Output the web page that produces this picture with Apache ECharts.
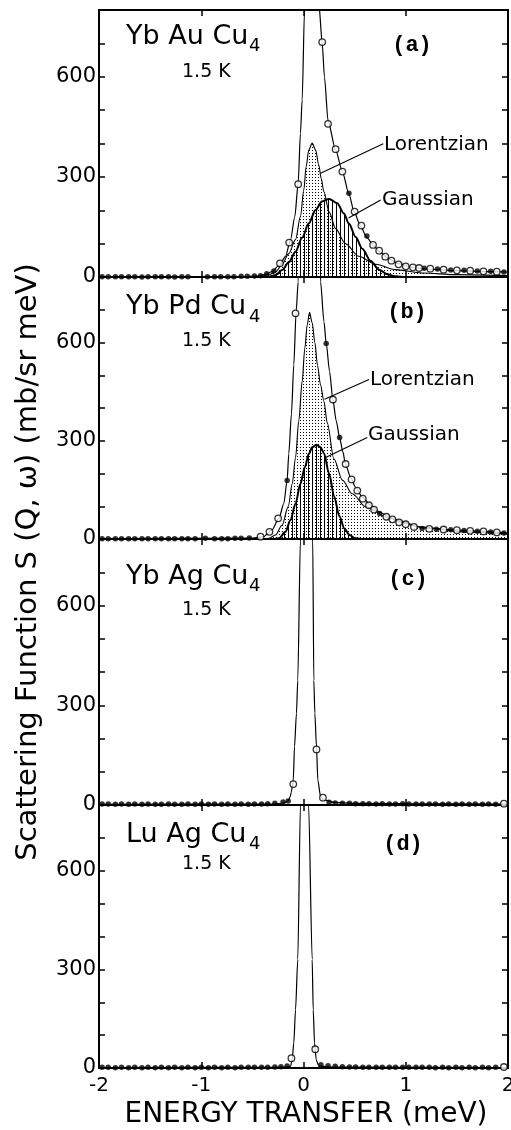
<!DOCTYPE html>
<html><head><meta charset="utf-8">
<script src="https://cdn.jsdelivr.net/npm/echarts/dist/echarts.min.js"></script>
<style>html,body{margin:0;padding:0;background:#fff}#c{width:511px;height:1130px}</style>
</head><body><div id="c"></div>
<script>
// ---------- tick labels / categories ----------
const xTickLabels = ['-2', '-1', '0', '1', '2'];
const yTickLabels = ['0', '300', '600'];
const panelNames = ['Yb Au Cu', 'Yb Pd Cu', 'Yb Ag Cu', 'Lu Ag Cu'];
const panelSub = ['4', '4', '4', '4'];
const panelTags = ['(a)', '(b)', '(c)', '(d)'];
const tempLabel = '1.5 K';

// ---------- panel (a) YbAuCu4 ----------
const fitA = [[-2,1],[-0.6,1],[-0.45,3],[-0.36,9],[-0.31,16],[-0.235,36],[-0.176,62],[-0.127,111],[-0.085,181],[-0.052,281],[-0.03,431],[-0.013,531],[0.01,800],[0.04,1500],[0.1,1600],[0.13,1050],[0.15,820],[0.183,700],[0.205,600],[0.24,468],[0.314,381],[0.38,316],[0.444,249],[0.494,196],[0.56,151],[0.62,118],[0.69,92],[0.755,73],[0.84,53],[0.93,40],[1.07,29],[1.2,24],[1.5,19],[1.8,16],[2,15]];
const lorA = [[-2,0],[-0.45,1],[-0.34,6],[-0.27,16],[-0.21,38],[-0.144,70],[-0.078,112],[-0.03,181],[0.003,261],[0.026,331],[0.052,381],[0.085,401],[0.118,381],[0.15,335],[0.173,295],[0.2,255],[0.25,195],[0.314,145],[0.41,100],[0.54,62],[0.706,38],[0.9,22],[1.16,12],[1.5,7],[2,4]];
const gauA = [[-2,0],[-0.35,0],[-0.27,6],[-0.21,21],[-0.144,44],[-0.078,76],[-0.013,118],[0.052,161],[0.118,201],[0.18,226],[0.25,234],[0.33,221],[0.395,190],[0.444,160],[0.51,120],[0.575,85],[0.657,48],[0.74,22],[0.82,8],[0.9,2],[1.0,0],[2,0]];
const openA = [[-0.23,41],[-0.14,103],[-0.052,278],[0.183,704],[0.24,459],[0.314,383],[0.38,316],[0.5,196],[0.566,154],[0.68,96],[0.74,79],[0.8,61],[0.86,49],[0.93,38],[1.0,32],[1.07,29],[1.13,27],[1.24,25],[1.37,22],[1.5,20],[1.63,19],[1.76,17],[1.89,16]];
const dotsA = [[-1.97,1],[-1.91,1],[-1.84,1],[-1.78,1],[-1.71,1],[-1.65,1],[-1.58,0],[-1.52,1],[-1.45,1],[-1.39,1],[-1.32,1],[-1.26,0],[-1.19,1],[-1.13,1],[-0.94,1],[-0.87,1],[-0.81,1],[-0.74,1],[-0.68,1],[-0.61,2],[-0.55,2],[-0.48,3],[-0.42,4],[-0.36,10],[-0.29,18],[0.444,251],[0.62,123],[1.18,26],[1.31,24],[1.44,21],[1.57,20],[1.7,18],[1.83,17],[1.96,15]];

// ---------- panel (b) YbPdCu4 ----------
const fitB = [[-2,1],[-0.5,3],[-0.39,7],[-0.31,27],[-0.24,63],[-0.193,108],[-0.16,179],[-0.144,260],[-0.118,381],[-0.095,532],[-0.072,694],[-0.052,785],[-0.035,1100],[0.0,2000],[0.06,2500],[0.12,2000],[0.15,1100],[0.167,785],[0.2,664],[0.222,598],[0.255,512],[0.287,426],[0.32,361],[0.353,310],[0.386,265],[0.41,229],[0.46,189],[0.51,158],[0.575,128],[0.657,103],[0.74,83],[0.84,66],[0.97,49],[1.13,37],[1.4,29],[1.7,24],[2,18]];
const lorB = [[-2,0],[-0.4,0],[-0.34,2],[-0.275,12],[-0.21,42],[-0.15,98],[-0.11,169],[-0.078,249],[-0.046,361],[-0.013,482],[0.013,583],[0.036,653],[0.059,692],[0.085,660],[0.111,600],[0.137,530],[0.167,470],[0.2,420],[0.232,355],[0.297,245],[0.38,180],[0.477,138],[0.61,98],[0.84,63],[1.2,33],[1.6,21],[2,15]];
const gauB = [[-2,0],[-0.3,0],[-0.24,2],[-0.176,22],[-0.127,58],[-0.078,108],[-0.03,169],[0.013,219],[0.052,260],[0.085,280],[0.127,288],[0.167,280],[0.2,262],[0.25,200],[0.3,130],[0.35,70],[0.4,32],[0.45,12],[0.5,3],[0.56,0],[2,0]];
const openB = [[-0.42,7],[-0.333,22],[-0.248,63],[-0.078,689],[0.288,426],[0.412,229],[0.47,182],[0.526,148],[0.58,123],[0.64,103],[0.69,90],[0.81,68],[0.87,60],[0.935,51],[1.0,45],[1.08,37],[1.23,31],[1.37,29],[1.5,27],[1.63,25],[1.76,23],[1.89,20]];
const dotsB = [[-1.97,1],[-1.91,1],[-1.84,1],[-1.78,1],[-1.71,1],[-1.65,1],[-1.58,1],[-1.52,1],[-1.45,1],[-1.39,1],[-1.32,1],[-1.26,1],[-1.19,1],[-1.13,1],[-1.06,1],[-0.96,2],[-0.87,1],[-0.8,1],[-0.74,1],[-0.67,2],[-0.61,2],[-0.53,3],[-0.16,179],[0.222,597],[0.353,310],[0.745,78],[1.16,32],[1.3,30],[1.44,28],[1.57,26],[1.7,24],[1.83,21],[1.96,18]];

// ---------- panel (c) YbAgCu4 ----------
const fitC = [[-2,2],[-0.3,3],[-0.2,6],[-0.15,12],[-0.13,25],[-0.12,38],[-0.11,55],[-0.1,75],[-0.088,175],[-0.069,275],[-0.056,375],[-0.03,800],[0,2200],[0.03,2600],[0.06,2200],[0.09,800],[0.101,375],[0.111,276],[0.127,175],[0.14,75],[0.167,25],[0.2,15],[0.3,8],[0.5,5],[1,4],[2,3]];
const openC = [[-0.1,63],[0.127,167],[0.19,22],[1.96,4]];
const dotsC = [[-1.97,3],[-1.91,3],[-1.84,2],[-1.78,3],[-1.71,2],[-1.65,3],[-1.58,2],[-1.52,3],[-1.45,2],[-1.39,2],[-1.32,3],[-1.26,2],[-1.19,2],[-1.13,3],[-1.06,2],[-1.0,3],[-0.93,2],[-0.87,3],[-0.8,2],[-0.74,3],[-0.67,2],[-0.61,3],[-0.54,2],[-0.48,3],[-0.41,3],[-0.35,4],[-0.28,5],[-0.2,9],[-0.15,12],[0.25,8],[0.31,6],[0.38,5],[0.45,5],[0.51,4],[0.58,4],[0.64,4],[0.71,3],[0.77,4],[0.84,3],[0.9,3],[0.97,4],[1.03,3],[1.1,3],[1.16,3],[1.23,3],[1.29,3],[1.36,2],[1.42,3],[1.49,2],[1.55,3],[1.62,2],[1.68,3],[1.75,2],[1.81,3],[1.88,2]];

// ---------- panel (d) LuAgCu4 ----------
const fitD = [[-2,1],[-0.3,2],[-0.15,3],[-0.127,5],[-0.111,24],[-0.095,76],[-0.078,177],[-0.056,330],[-0.03,800],[0,2000],[0.02,2400],[0.05,800],[0.085,330],[0.095,177],[0.108,76],[0.125,24],[0.15,6],[0.3,3],[2,1]];
const openD = [[-0.118,30],[0.115,57],[1.96,3]];
const dotsD = [[-1.97,2],[-1.91,2],[-1.84,1],[-1.78,2],[-1.71,1],[-1.65,2],[-1.58,1],[-1.52,2],[-1.45,1],[-1.39,2],[-1.32,1],[-1.26,2],[-1.19,1],[-1.13,2],[-1.06,1],[-1.0,2],[-0.93,1],[-0.87,2],[-0.8,1],[-0.74,2],[-0.67,1],[-0.61,2],[-0.54,2],[-0.48,2],[-0.41,2],[-0.35,2],[-0.28,3],[-0.22,4],[-0.16,6],[0.17,10],[0.24,7],[0.31,5],[0.38,4],[0.45,3],[0.51,3],[0.58,2],[0.64,2],[0.71,2],[0.77,2],[0.84,2],[0.9,2],[0.97,2],[1.03,2],[1.1,2],[1.16,2],[1.23,2],[1.29,1],[1.36,2],[1.42,1],[1.49,2],[1.55,1],[1.62,2],[1.68,1],[1.75,2],[1.81,1],[1.88,2]];

// ---------- leader lines (data coords) ----------
const leadLorA = [[0.78,399],[0.167,311]];
const leadGauA = [[0.755,231],[0.44,177]];
const leadLorB = [[0.64,487],[0.206,427]];
const leadGauB = [[0.624,310],[0.216,249]];

const fits = [fitA, fitB, fitC, fitD];
const lors = [lorA, lorB, null, null];
const gaus = [gauA, gauB, null, null];
const opens = [openA, openB, openC, openD];
const dots = [dotsA, dotsB, dotsC, dotsD];
const leaders = [[leadLorA, leadGauA], [leadLorB, leadGauB], [], []];

// ---------- layout ----------
const panelTop = [10, 277, 539, 805];
const panelH = [267, 262, 266, 263];
const GL = 99, GR = 3;

function pattern(kind) {
  const c = document.createElement('canvas');
  const g = c.getContext('2d');
  if (kind === 'dots') {
    c.width = 3; c.height = 3;
    g.fillStyle = '#000';
    g.fillRect(0, 0, 1, 1);
  } else {
    c.width = 4; c.height = 2;
    g.fillStyle = '#000';
    g.fillRect(0, 0, 1, 2);
  }
  return { image: c, repeat: 'repeat' };
}
const stipple = pattern('dots');
const hatch = pattern('hatch');

const grids = [], xAxes = [], yAxes = [], series = [];
for (let i = 0; i < 4; i++) {
  grids.push({ left: GL, right: GR, top: panelTop[i], height: panelH[i], show: true, borderColor: '#000', borderWidth: 2,
    backgroundColor: 'rgba(0,0,0,0)', containLabel: false, outerBoundsMode: 'none' });
  const tick = { show: true, inside: true, length: 6, lineStyle: { color: '#000', width: 1.5 } };
  const line = { show: false, onZero: false };
  xAxes.push({ gridIndex: i, type: 'value', min: -2, max: 2, interval: 1, position: 'bottom',
    axisLine: line, axisTick: tick, splitLine: { show: false },
    axisLabel: { show: i === 3, margin: 8, color: '#000', fontFamily: 'DejaVu Sans', fontSize: 20, hideOverlap: false,
      formatter: v => xTickLabels[Math.round(v) + 2] } });
  xAxes.push({ gridIndex: i, type: 'value', min: -2, max: 2, interval: 1, position: 'top',
    axisLine: line, axisTick: tick, splitLine: { show: false }, axisLabel: { show: false } });
  yAxes.push({ gridIndex: i, type: 'value', min: 0, max: 800, interval: 100, position: 'left',
    axisLine: line, axisTick: tick, splitLine: { show: false },
    axisLabel: { margin: 3, color: '#000', fontFamily: 'DejaVu Sans', fontSize: 21, hideOverlap: false,
      formatter: v => (yTickLabels.indexOf(String(v)) >= 0 ? String(v) : '') } });
  yAxes.push({ gridIndex: i, type: 'value', min: 0, max: 800, interval: 100, position: 'right',
    axisLine: line, axisTick: tick, splitLine: { show: false }, axisLabel: { show: false } });

  const ax = { xAxisIndex: 2 * i, yAxisIndex: 2 * i };
  if (lors[i]) {
    series.push(Object.assign({ type: 'line', data: lors[i], symbol: 'none', smooth: 0.3, smoothMonotone: 'x',
      lineStyle: { color: '#000', width: 1.1 }, areaStyle: { color: stipple, opacity: 1 }, z: 2, silent: true }, ax));
  }
  if (gaus[i]) {
    series.push(Object.assign({ type: 'line', data: gaus[i], symbol: 'none', smooth: 0.3, smoothMonotone: 'x',
      lineStyle: { color: '#000', width: 2 }, areaStyle: { color: hatch, opacity: 1 }, z: 3, silent: true }, ax));
  }
  series.push(Object.assign({ type: 'line', data: fits[i], symbol: 'none', smooth: 0.25, smoothMonotone: 'x',
    lineStyle: { color: '#000', width: 1.2 }, z: 4, silent: true }, ax));
  leaders[i].forEach(ld => series.push(Object.assign({ type: 'line', data: ld, symbol: 'none',
    lineStyle: { color: '#000', width: 1.1 }, z: 6, silent: true }, ax)));
  series.push(Object.assign({ type: 'scatter', data: dots[i], symbol: 'circle', symbolSize: 5.5, clip: false,
    itemStyle: { color: '#000' }, z: 5, silent: true }, ax));
  series.push(Object.assign({ type: 'scatter', data: opens[i], symbol: 'circle', symbolSize: 6.5, clip: false,
    itemStyle: { color: '#fff', borderColor: '#000', borderWidth: 1.3 }, z: 5, silent: true }, ax));
}

// text positions (pixels)
const nameY = [37, 307, 577, 835];
const subY = [46, 317, 586, 844];
const tempY = [72, 341, 610, 864];
const tagX = [412, 407, 408, 403];
const tagY = [45, 312, 579, 844];
const graphics = [];
const F = 'DejaVu Sans';
for (let i = 0; i < 4; i++) {
  graphics.push({ type: 'text', x: 126, y: nameY[i], style: { text: panelNames[i], fontFamily: F, fontSize: 27, fill: '#000', align: 'left', verticalAlign: 'middle' } });
  graphics.push({ type: 'text', x: 249, y: subY[i], style: { text: panelSub[i], fontFamily: F, fontSize: 18, fill: '#000', align: 'left', verticalAlign: 'middle' } });
  graphics.push({ type: 'text', x: 182, y: tempY[i], style: { text: tempLabel, fontFamily: F, fontSize: 19, fill: '#000', align: 'left', verticalAlign: 'middle' } });
  graphics.push({ type: 'text', x: tagX[i], y: tagY[i], style: { text: panelTags[i], fontFamily: 'Liberation Mono', fontWeight: 'bold', fontSize: 22, fill: '#000', align: 'center', verticalAlign: 'middle' } });
}
const annot = [['Lorentzian', 384, 145], ['Gaussian', 382, 200], ['Lorentzian', 370, 380], ['Gaussian', 368, 435]];
annot.forEach(a => graphics.push({ type: 'text', x: a[1], y: a[2], style: { text: a[0], fontFamily: F, fontSize: 20, fill: '#000', align: 'left', verticalAlign: 'middle' } }));
graphics.push({ type: 'text', x: 28, y: 562, rotation: Math.PI / 2, style: { text: 'Scattering Function S (Q, ω) (mb/sr meV)', fontFamily: F, fontSize: 29, fill: '#000', align: 'center', verticalAlign: 'middle' } });
graphics.push({ type: 'text', x: 306, y: 1115, style: { text: 'ENERGY TRANSFER (meV)', fontFamily: F, fontSize: 28, fill: '#000', align: 'center', verticalAlign: 'middle' } });

const chart = echarts.init(document.getElementById('c'), null, { renderer: 'canvas' });
chart.setOption({
  animation: false,
  backgroundColor: '#fff',
  grid: grids, xAxis: xAxes, yAxis: yAxes, series: series,
  graphic: graphics
});
</script></body></html>
